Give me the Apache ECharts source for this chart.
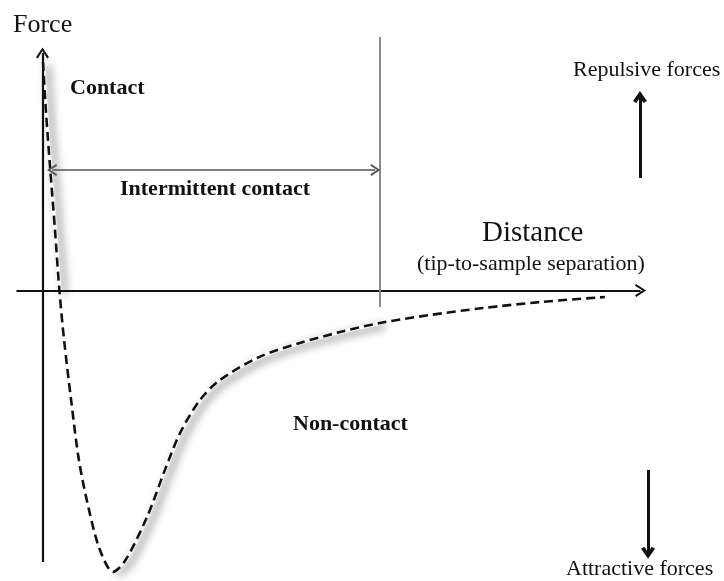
<!DOCTYPE html>
<html>
<head>
<meta charset="utf-8">
<script src="https://cdn.jsdelivr.net/npm/echarts@6/dist/echarts.min.js"></script>
<style>
  html, body { margin: 0; padding: 0; background: #fff; }
  #chart { width: 724px; height: 581px; }
</style>
</head>
<body>
<div id="chart"></div>
<script>
// tip-to-sample distance (arbitrary units) and force
const distance = [0.02, 0.13, 0.29, 0.48, 0.65, 0.83, 1.1, 1.4, 1.79, 2.21, 2.71, 3.17, 4.02, 4.71, 5.29, 6.06, 6.83, 8.37, 9.9, 11.44, 12.98, 14.9, 16.94, 19.13, 21.63];
const force = [9.5, 7.5, 5.14, 2.52, 0, -2.06, -4.55, -7.05, -9.13, -10.79, -11.7, -11.25, -9.42, -7.46, -5.93, -4.55, -3.72, -2.75, -2.18, -1.73, -1.35, -1.02, -0.73, -0.48, -0.27];

// shaded parts of the curve (index ranges)
const contactRange = [0, 4];
const intermittentRange = [10, 20];

// axes drawn as arrows through the origin
const distanceAxis = { from: -1, to: 23.0 };
const forceAxis = { from: -11.29, to: 9.88 };

// region markers
const regionEdge = { x: 12.98, yTop: 10.54, yBottom: -0.69 };
const intermittentArrow = { y: 5.01, from: 0.37, to: 12.8 };
const repulsiveArrow = { x: 22.98, from: 4.68, to: 8.05 };
const attractiveArrow = { x: 23.29, from: -7.46, to: -10.9 };

const serif = '"Liberation Serif", "Times New Roman", serif';
const chevron = 'path://M5,0 L10,9 L8.6,10 L5,3.2 L1.4,10 L0,9 Z';
const boldChevron = 'path://M5,0 L10,8 L7.6,9.6 L5,5.2 L2.4,9.6 L0,8 Z';

const curve = distance.map((d, i) => [d, force[i]]);
const slice = (r) => curve.slice(r[0], r[1] + 1);

const glowStyle = {
  color: '#fff',
  width: 4,
  shadowColor: 'rgba(0,0,0,0.5)',
  shadowBlur: 8,
  shadowOffsetX: 5,
  shadowOffsetY: 3,
};

const solid = (color, width) => ({ color, width, type: 'solid' });

const chart = echarts.init(document.getElementById('chart'));
chart.setOption({
  animation: false,
  backgroundColor: '#fff',
  grid: { left: 16.5, right: 67.9, top: 35.57, bottom: 7.93 },
  xAxis: { type: 'value', min: -1, max: 23.6, show: false },
  yAxis: { type: 'value', min: -11.75, max: 10.6, show: false },
  series: [
    {
      type: 'line',
      data: slice(contactRange),
      smooth: 0.3,
      showSymbol: false,
      silent: true,
      clip: false,
      lineStyle: glowStyle,
    },
    {
      type: 'line',
      data: slice(intermittentRange),
      smooth: 0.3,
      showSymbol: false,
      silent: true,
      clip: false,
      lineStyle: glowStyle,
    },
    {
      type: 'line',
      data: curve,
      smooth: 0.3,
      showSymbol: false,
      silent: true,
      clip: false,
      z: 3,
      lineStyle: { color: '#111', width: 2.6, type: [9, 5] },
      markLine: {
        silent: true,
        animation: false,
        label: { show: false },
        emphasis: { disabled: true },
        data: [
          [
            { coord: [distanceAxis.from, 0], symbol: 'none', lineStyle: solid('#111', 2.2) },
            { coord: [distanceAxis.to, 0], symbol: chevron, symbolSize: [13, 11] },
          ],
          [
            { coord: [0, forceAxis.from], symbol: 'none', lineStyle: solid('#111', 2.2) },
            { coord: [0, forceAxis.to], symbol: chevron, symbolSize: [13, 11] },
          ],
          [
            { coord: [regionEdge.x, regionEdge.yTop], symbol: 'none', lineStyle: solid('#8a8a8a', 2) },
            { coord: [regionEdge.x, regionEdge.yBottom], symbol: 'none' },
          ],
          [
            { coord: [intermittentArrow.from, intermittentArrow.y], symbol: chevron, symbolSize: [12, 10], lineStyle: solid('#555', 1.6) },
            { coord: [intermittentArrow.to, intermittentArrow.y], symbol: chevron, symbolSize: [12, 10] },
          ],
          [
            { coord: [repulsiveArrow.x, repulsiveArrow.from], symbol: 'none', lineStyle: solid('#111', 3) },
            { coord: [repulsiveArrow.x, repulsiveArrow.to], symbol: boldChevron, symbolSize: [14, 12] },
          ],
          [
            { coord: [attractiveArrow.x, attractiveArrow.from], symbol: 'none', lineStyle: solid('#111', 3) },
            { coord: [attractiveArrow.x, attractiveArrow.to], symbol: boldChevron, symbolSize: [14, 12] },
          ],
        ],
      },
    },
  ],
  graphic: [
    { type: 'text', left: 13, top: 12, style: { text: 'Force', font: '26px ' + serif, fill: '#111' } },
    { type: 'text', left: 70, top: 77, style: { text: 'Contact', font: 'bold 22px ' + serif, fill: '#111' } },
    { type: 'text', left: 120, top: 178, style: { text: 'Intermittent contact', font: 'bold 22px ' + serif, fill: '#111' } },
    { type: 'text', left: 293, top: 413, style: { text: 'Non-contact', font: 'bold 22px ' + serif, fill: '#111' } },
    { type: 'text', left: 482, top: 219, style: { text: 'Distance', font: '29px ' + serif, fill: '#111' } },
    { type: 'text', left: 417, top: 253, style: { text: '(tip-to-sample separation)', font: '22px ' + serif, fill: '#111' } },
    { type: 'text', left: 573, top: 59, style: { text: 'Repulsive forces', font: '22px ' + serif, fill: '#111' } },
    { type: 'text', left: 566, top: 558, style: { text: 'Attractive forces', font: '22px ' + serif, fill: '#111' } },
  ],
});
</script>
</body>
</html>
